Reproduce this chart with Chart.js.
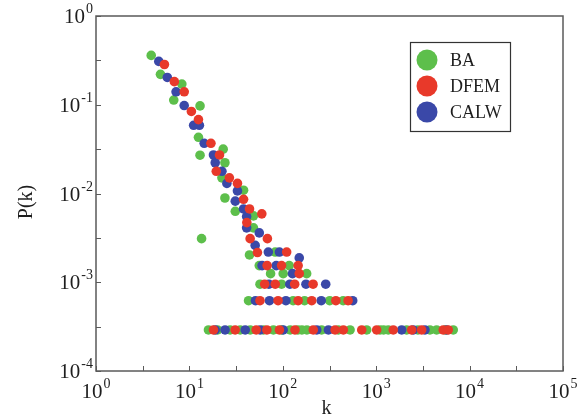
<!DOCTYPE html>
<html>
<head>
<meta charset="utf-8">
<title>P(k)</title>
<script src="https://cdn.jsdelivr.net/npm/chart.js@4"></script>
<style>
  html, body { margin: 0; padding: 0; background: #fff; }
  #wrap { width: 588px; height: 420px; }
</style>
</head>
<body>
<div id="wrap"><canvas id="myChart" width="588" height="420"></canvas></div>
<script>
// degree k and probability P(k) for each model
const baK = [3.9, 4.9, 6.8, 8.3, 13, 12.5, 13, 23, 24, 22.3, 38, 24, 31, 48.5, 48.5, 13.5, 44, 83, 56, 117, 74, 101, 180, 57, 97,
  43, 129, 171, 318, 443,
  16, 20, 27.3, 35, 44.8, 62, 79.3, 97.5, 120, 145, 160, 181, 260, 393, 525, 791, 1098, 1200, 1347, 2119, 2800, 3760, 4436, 5500, 6680];
const baP = [0.36, 0.22, 0.113, 0.171, 0.097, 0.043, 0.027, 0.0316, 0.0222, 0.015, 0.0109, 0.0089, 0.0063, 0.0056, 0.0041, 0.0031, 0.00203, 0.00219, 0.00154, 0.00154, 0.00125, 0.00125, 0.00125, 0.00095, 0.00095,
  0.00062, 0.00062, 0.00062, 0.00062, 0.00062,
  0.00029, 0.00029, 0.00029, 0.00029, 0.00029, 0.00029, 0.00029, 0.00029, 0.00029, 0.00029, 0.00029, 0.00029, 0.00029, 0.00029, 0.00029, 0.00029, 0.00029, 0.00029, 0.00029, 0.00029, 0.00029, 0.00029, 0.00029, 0.00029, 0.00029];

const dfemK = [5.4, 6.9, 8.8, 10.5, 12.5, 17, 21, 19.4, 26.8, 32.7, 38, 44, 59.6, 41.2, 44.7, 68.4, 53.5, 110, 68, 97, 146, 150,
  64, 83, 134, 211, 57, 89, 146, 204, 370, 500,
  18.1, 30.9, 51.9, 67.5, 92, 135, 212, 363, 445, 700, 1012, 1523, 2397, 3069, 5220, 5905];
const dfemP = [0.284, 0.182, 0.14, 0.084, 0.068, 0.0368, 0.0272, 0.0178, 0.015, 0.013, 0.0086, 0.0067, 0.0059, 0.0047, 0.0031, 0.0031, 0.00216, 0.00219, 0.00154, 0.00154, 0.00154, 0.00125,
  0.00095, 0.00095, 0.00095, 0.00095, 0.00062, 0.00062, 0.00062, 0.00062, 0.00062, 0.00062,
  0.00029, 0.00029, 0.00029, 0.00029, 0.00029, 0.00029, 0.00029, 0.00029, 0.00029, 0.00029, 0.00029, 0.00029, 0.00029, 0.00029, 0.00029, 0.00029];

const calwK = [4.7, 5.8, 7.2, 8.8, 11.1, 12.8, 14.4, 18.1, 18.9, 22.3, 25.2, 32.7, 31, 38, 41, 41, 56, 50.6, 70, 92, 150, 60, 85, 127,
  71, 119, 177, 288, 51, 72, 108, 258, 560,
  18.9, 24.1, 39.6, 57.2, 101, 231, 308, 1874, 2495, 3325, 5675];
const calwP = [0.308, 0.203, 0.14, 0.098, 0.0587, 0.0587, 0.0368, 0.0272, 0.0222, 0.0178, 0.013, 0.0107, 0.0082, 0.0067, 0.0055, 0.0041, 0.0036, 0.0026, 0.00219, 0.00219, 0.00188, 0.00154, 0.00154, 0.00125,
  0.00095, 0.00095, 0.00095, 0.00095, 0.00062, 0.00062, 0.00062, 0.00062, 0.00062,
  0.00029, 0.00029, 0.00029, 0.00029, 0.00029, 0.00029, 0.00029, 0.00029, 0.00029, 0.00029, 0.00029];

const seriesNames = ["BA", "DFEM", "CALW"];
const seriesColors = ["#5dbf4b", "#e8392a", "#3a48a8"];

// decade exponents for the tick labels
const xTickExps = [0, 1, 2, 3, 4, 5];
const yTickExps = [0, -1, -2, -3, -4];

const serif = '"Liberation Serif", "DejaVu Serif", serif';
const textColor = "#1e1e1e";

function toPoints(ks, ps) {
  return ks.map((k, i) => ({ x: k, y: ps[i] }));
}

function makeDataset(i, ks, ps, order) {
  return {
    label: seriesNames[i],
    data: toPoints(ks, ps),
    backgroundColor: seriesColors[i],
    borderWidth: 0,
    pointRadius: 4.8,
    pointHoverRadius: 4.8,
    order: order
  };
}

// "10" with the exponent raised and smaller
function drawPower(ctx, exp, x, y, align) {
  const base = "10";
  const sup = String(exp);
  ctx.font = "21px " + serif;
  const bw = ctx.measureText(base).width;
  ctx.font = "14px " + serif;
  const sw = ctx.measureText(sup).width;
  const left = align === "center" ? x - (bw + sw + 1) / 2 : x - bw - sw - 1;
  ctx.textAlign = "left";
  ctx.textBaseline = "alphabetic";
  ctx.font = "21px " + serif;
  ctx.fillText(base, left, y);
  ctx.font = "14px " + serif;
  ctx.fillText(sup, left + bw + 1, y - 10);
}

const axesPlugin = {
  id: "axesFrame",
  afterDatasetsDraw(chart) {
    const ctx = chart.ctx;
    const area = chart.chartArea;
    const xs = chart.scales.x;
    const ys = chart.scales.y;
    ctx.save();

    ctx.strokeStyle = "#5a5a5a";
    ctx.lineWidth = 1.5;
    ctx.strokeRect(area.left, area.top, area.right - area.left, area.bottom - area.top);

    // inward ticks every half decade
    ctx.lineWidth = 1;
    ctx.beginPath();
    for (let i = 0; i <= 10; i++) {
      const px = Math.round(xs.getPixelForValue(Math.pow(10, i / 2))) + 0.5;
      ctx.moveTo(px, area.bottom);
      ctx.lineTo(px, area.bottom - 5);
    }
    for (let i = 0; i <= 8; i++) {
      const py = Math.round(ys.getPixelForValue(Math.pow(10, -i / 2))) + 0.5;
      ctx.moveTo(area.left, py);
      ctx.lineTo(area.left + 5, py);
    }
    ctx.stroke();

    ctx.fillStyle = textColor;
    xTickExps.forEach(e => {
      drawPower(ctx, e, xs.getPixelForValue(Math.pow(10, e)), area.bottom + 27, "center");
    });
    yTickExps.forEach(e => {
      drawPower(ctx, e, area.left - 3, ys.getPixelForValue(Math.pow(10, e)) + 7, "right");
    });

    // axis titles
    ctx.font = "20px " + serif;
    ctx.textAlign = "center";
    ctx.textBaseline = "middle";
    ctx.fillText("k", (area.left + area.right) / 2 - 3, 409);
    ctx.save();
    ctx.translate(27, 202);
    ctx.rotate(-Math.PI / 2);
    ctx.fillText("P(k)", 0, 0);
    ctx.restore();

    ctx.restore();
  },
  afterDraw(chart) {
    const ctx = chart.ctx;
    ctx.save();
    const bx = 410.5, by = 42.5, bw = 100, bh = 89;
    ctx.fillStyle = "#fff";
    ctx.fillRect(bx, by, bw, bh);
    ctx.strokeStyle = "#333";
    ctx.lineWidth = 1.2;
    ctx.strokeRect(bx, by, bw, bh);
    ctx.font = "18px " + serif;
    ctx.textAlign = "left";
    ctx.textBaseline = "middle";
    const rows = [60, 86, 112];
    chart.data.datasets.forEach((ds, i) => {
      ctx.fillStyle = ds.backgroundColor;
      ctx.beginPath();
      ctx.arc(427, rows[i], 10.5, 0, Math.PI * 2);
      ctx.fill();
      ctx.fillStyle = textColor;
      ctx.fillText(ds.label, 450, rows[i] + 1);
    });
    ctx.restore();
  }
};

const config = {
  type: "scatter",
  data: {
    datasets: [
      makeDataset(0, baK, baP, 3),
      makeDataset(1, dfemK, dfemP, 1),
      makeDataset(2, calwK, calwP, 2)
    ]
  },
  options: {
    responsive: false,
    animation: false,
    layout: { padding: { left: 96, right: 25, top: 16, bottom: 49 } },
    plugins: {
      legend: { display: false },
      tooltip: { enabled: false }
    },
    scales: {
      x: { type: "logarithmic", min: 1, max: 100000, display: false },
      y: { type: "logarithmic", min: 0.0001, max: 1, display: false }
    }
  },
  plugins: [axesPlugin]
};

const myChart = new Chart(document.getElementById("myChart"), config);
</script>
</body>
</html>
